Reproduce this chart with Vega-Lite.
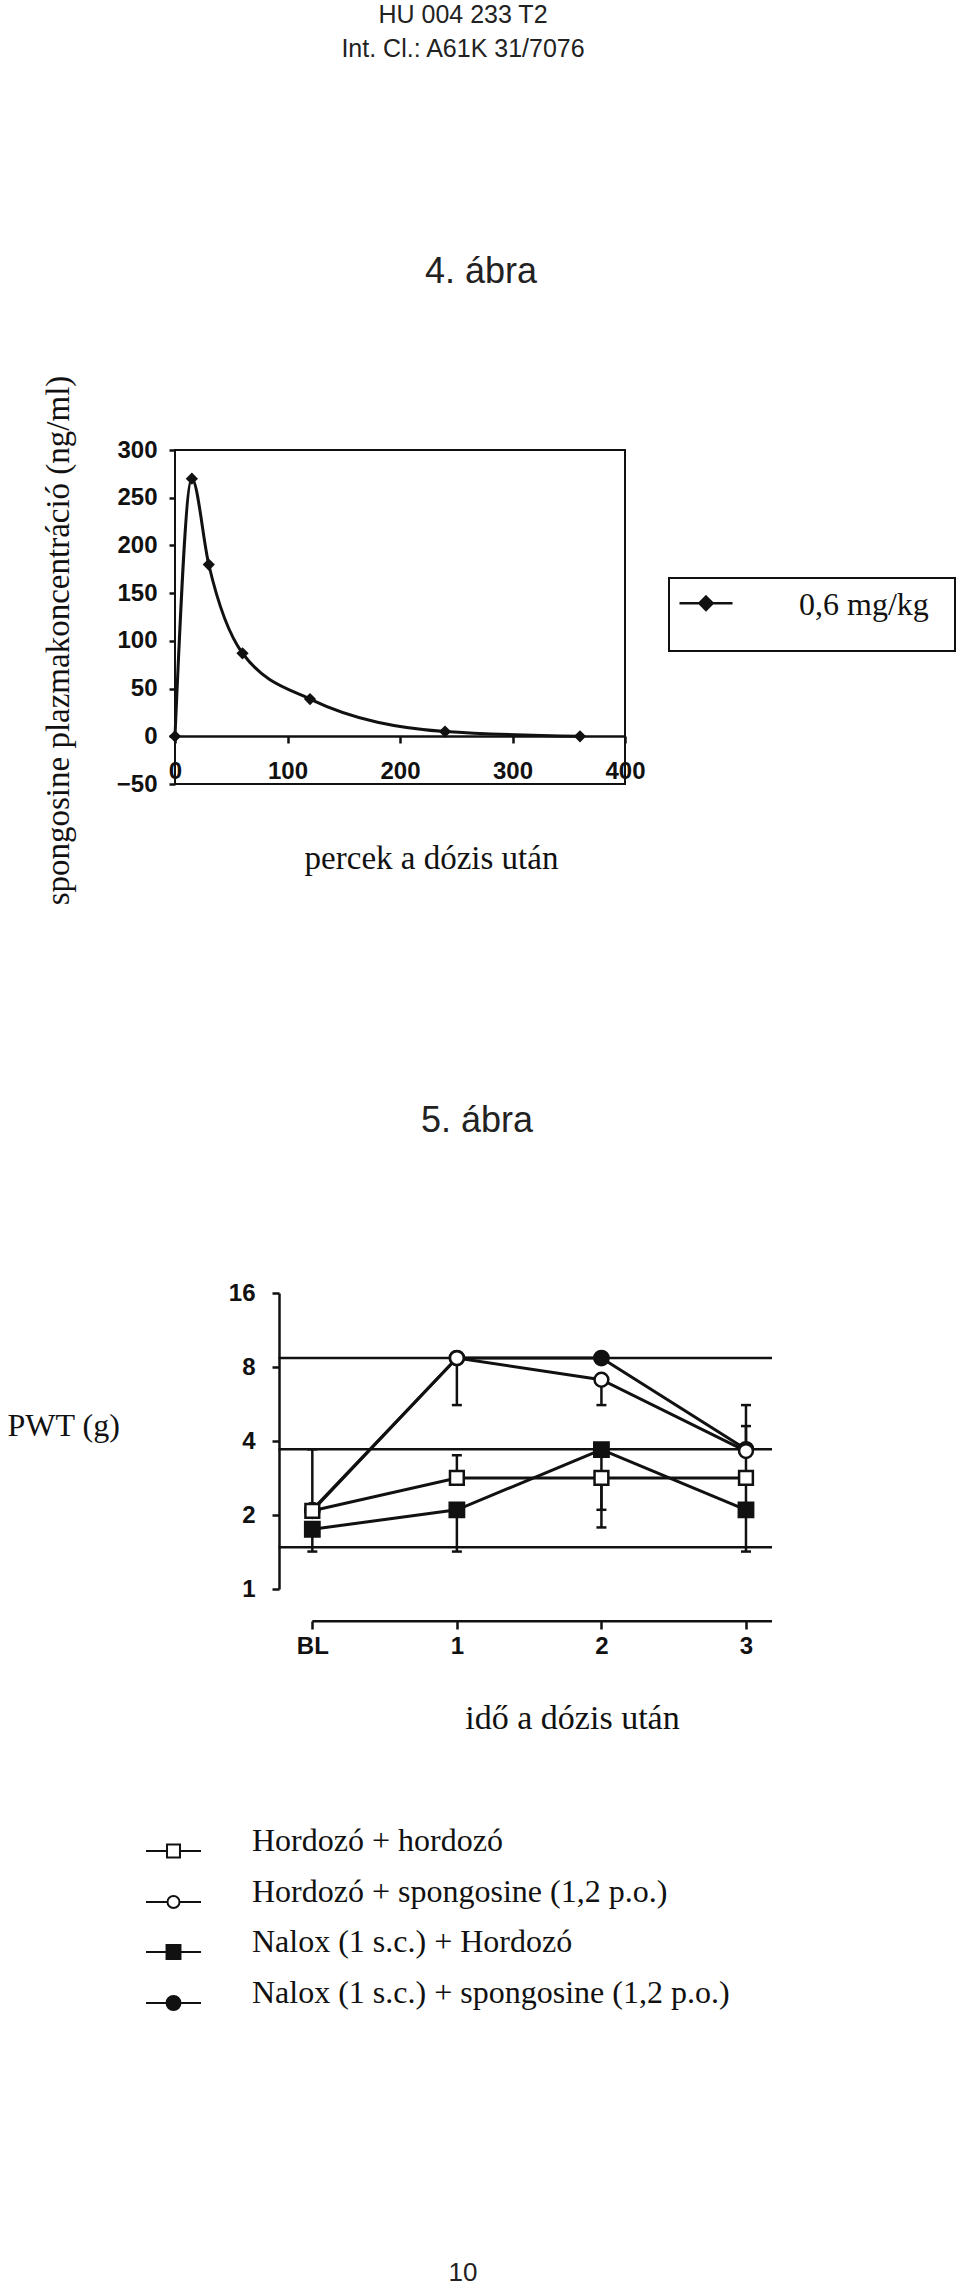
{
  "$schema": "https://vega.github.io/schema/vega-lite/v6.json",
  "background": "white",
  "autosize": {"type": "pad"},
  "padding": {"left": 7, "top": 3, "right": 2, "bottom": 0},
  "datasets": {
    "pk": [
      {"minutes": 0, "conc": 0, "dose": "0,6 mg/kg"},
      {"minutes": 15, "conc": 270, "dose": "0,6 mg/kg"},
      {"minutes": 30, "conc": 180, "dose": "0,6 mg/kg"},
      {"minutes": 60, "conc": 87, "dose": "0,6 mg/kg"},
      {"minutes": 120, "conc": 39, "dose": "0,6 mg/kg"},
      {"minutes": 240, "conc": 5, "dose": "0,6 mg/kg"},
      {"minutes": 360, "conc": 0, "dose": "0,6 mg/kg"}
    ],
    "pwt": [
      {"group": "Nalox (1 s.c.) + spongosine (1,2 p.o.)", "t": 0, "pwt": 2.08, "lo": 2.08, "hi": 2.08},
      {"group": "Nalox (1 s.c.) + spongosine (1,2 p.o.)", "t": 1, "pwt": 8.7, "lo": 8.7, "hi": 8.7},
      {"group": "Nalox (1 s.c.) + spongosine (1,2 p.o.)", "t": 2, "pwt": 8.7, "lo": 8.7, "hi": 8.7},
      {"group": "Nalox (1 s.c.) + spongosine (1,2 p.o.)", "t": 3, "pwt": 3.7, "lo": 3.7, "hi": 4.6},
      {"group": "Nalox (1 s.c.) + Hordozó", "t": 0, "pwt": 1.75, "lo": 1.42, "hi": 1.75},
      {"group": "Nalox (1 s.c.) + Hordozó", "t": 1, "pwt": 2.1, "lo": 1.42, "hi": 2.1},
      {"group": "Nalox (1 s.c.) + Hordozó", "t": 2, "pwt": 3.69, "lo": 2.1, "hi": 3.69},
      {"group": "Nalox (1 s.c.) + Hordozó", "t": 3, "pwt": 2.1, "lo": 1.42, "hi": 2.1},
      {"group": "Hordozó + spongosine (1,2 p.o.)", "t": 0, "pwt": 2.1, "lo": 2.1, "hi": 2.1},
      {"group": "Hordozó + spongosine (1,2 p.o.)", "t": 1, "pwt": 8.7, "lo": 5.6, "hi": 8.7},
      {"group": "Hordozó + spongosine (1,2 p.o.)", "t": 2, "pwt": 7.1, "lo": 5.6, "hi": 7.1},
      {"group": "Hordozó + spongosine (1,2 p.o.)", "t": 3, "pwt": 3.64, "lo": 3.64, "hi": 5.6},
      {"group": "Hordozó + hordozó", "t": 0, "pwt": 2.08, "lo": 2.08, "hi": 3.7},
      {"group": "Hordozó + hordozó", "t": 1, "pwt": 2.83, "lo": 2.83, "hi": 3.5},
      {"group": "Hordozó + hordozó", "t": 2, "pwt": 2.83, "lo": 1.78, "hi": 2.83},
      {"group": "Hordozó + hordozó", "t": 3, "pwt": 2.83, "lo": 2.2, "hi": 3.5}
    ],
    "reflines": [
      {"level": 8.7},
      {"level": 3.7},
      {"level": 1.48}
    ]
  },
  "title": {
    "text": "HU 004 233 T2",
    "subtitle": "Int. Cl.: A61K 31/7076",
    "font": "Liberation Sans",
    "fontSize": 25,
    "fontWeight": "normal",
    "color": "#222",
    "subtitleFont": "Liberation Sans",
    "subtitleFontSize": 25,
    "subtitleColor": "#222",
    "subtitlePadding": 9,
    "anchor": "middle",
    "frame": "bounds",
    "dx": -19,
    "offset": 191,
    "baseline": "top"
  },
  "bounds": "flush",
  "spacing": 509,
  "resolve": {
    "scale": {"shape": "independent", "fill": "independent"},
    "legend": {"shape": "independent", "fill": "independent"}
  },
  "vconcat": [
    {
      "width": 450,
      "height": 334,
      "view": {"stroke": "#111", "strokeWidth": 2},
      "title": {"text": "4. ábra", "font": "Liberation Sans", "fontSize": 36, "fontWeight": "normal", "color": "#222", "anchor": "middle", "frame": "group", "dx": 81, "offset": 84, "baseline": "top"},
      "data": {"name": "pk"},
      "layer": [
        {
          "mark": {"type": "line", "interpolate": "monotone", "color": "#111", "strokeWidth": 3},
          "encoding": {
            "x": {
              "field": "minutes", "type": "quantitative",
              "scale": {"domain": [0, 400], "nice": false, "zero": false},
              "axis": {"orient": "bottom", "offset": -48, "values": [0, 100, 200, 300, 400], "format": "d", "domain": true, "tickSize": 7, "labelPadding": 16, "labelFlush": false, "labelOverlap": false, "title": "percek a dózis után", "titleX": 256, "titleY": 132, "titleAlign": "center", "titleBaseline": "alphabetic", "titleFontSize": 33}
            },
            "y": {
              "field": "conc", "type": "quantitative",
              "scale": {"domain": [-50, 300], "nice": false, "zero": false},
              "axis": {"values": [-50, 0, 50, 100, 150, 200, 250, 300], "format": "d", "domain": false, "tickSize": 6, "labelPadding": 12, "labelFlush": false, "labelOverlap": false, "title": "spongosine plazmakoncentráció (ng/ml)", "titleAngle": -90, "titleX": -117, "titleY": 190, "titleAlign": "center", "titleBaseline": "middle", "titleFontSize": 33}
            }
          }
        },
        {
          "mark": {"type": "point", "shape": "diamond", "filled": true, "color": "#111", "size": 150, "opacity": 1},
          "encoding": {
            "x": {"field": "minutes", "type": "quantitative"},
            "y": {"field": "conc", "type": "quantitative"}
          }
        },
        {
          "transform": [{"filter": "false"}],
          "mark": {"type": "point", "filled": false, "stroke": "#111", "strokeWidth": 2.5, "opacity": 1},
          "encoding": {
            "x": {"field": "minutes", "type": "quantitative"},
            "y": {"field": "conc", "type": "quantitative"},
            "shape": {
              "field": "dose", "type": "nominal",
              "scale": {"domain": ["0,6 mg/kg"], "range": ["M-1,-0.443L1,-0.443M0,-0.693L0.25,-0.443L0,-0.193L-0.25,-0.443ZM8.85,-0.443L8.85,-0.443"]},
              "legend": {"orient": "none", "legendX": 494, "legendY": 128, "title": "\u00a0", "titleOrient": "bottom", "titleFontSize": 21, "titlePadding": 0, "padding": 9, "strokeColor": "#111", "symbolSize": 2809, "symbolStrokeWidth": 2.5, "symbolFillColor": "#111", "labelFont": "Liberation Serif", "labelFontSize": 32, "labelBaseline": "alphabetic", "labelOffset": 65, "labelLimit": 400, "labelColor": "#111"}
            },
            "fill": {
              "field": "dose", "type": "nominal",
              "scale": {"domain": ["0,6 mg/kg"], "range": ["#111"]},
              "legend": {"orient": "none", "legendX": 494, "legendY": 128, "title": "\u00a0", "titleOrient": "bottom", "titleFontSize": 21, "titlePadding": 0, "padding": 9, "strokeColor": "#111", "symbolSize": 2809, "symbolStrokeWidth": 2.5, "symbolFillColor": "#111", "labelFont": "Liberation Serif", "labelFontSize": 32, "labelBaseline": "alphabetic", "labelOffset": 65, "labelLimit": 400, "labelColor": "#111"}
            }
          }
        }
      ]
    },
    {
      "width": 597,
      "height": 296,
      "title": {"text": "5. ábra", "font": "Liberation Sans", "fontSize": 36, "fontWeight": "normal", "color": "#222", "anchor": "middle", "frame": "group", "dx": 3.5, "offset": 141, "baseline": "top"},
      "layer": [
        {
          "data": {"name": "reflines"},
          "mark": {"type": "rule", "color": "#111", "strokeWidth": 2.5},
          "encoding": {
            "y": {
              "field": "level", "type": "quantitative",
              "scale": {"type": "log", "base": 2, "domain": [1, 16], "nice": false},
              "axis": {"orient": "left", "offset": -104, "values": [1, 2, 4, 8, 16], "format": "d", "domain": true, "tickSize": 7, "labelPadding": 17, "labelFlush": false, "labelOverlap": false, "title": "PWT (g)", "titleAngle": 0, "titleX": -272, "titleY": 142, "titleAlign": "left", "titleBaseline": "alphabetic", "titleFontSize": 32}
            },
            "x": {
              "datum": -0.234, "type": "quantitative",
              "scale": {"domain": [-0.95, 3.18], "nice": false, "zero": false},
              "axis": {"orient": "bottom", "offset": 32, "values": [0, 1, 2, 3], "format": "d", "labelExpr": "datum.value == 0 ? 'BL' : datum.label", "domain": false, "tickSize": 8, "labelPadding": 5, "labelFlush": false, "title": "idő a dózis után", "titleX": 397, "titleY": 107, "titleAlign": "center", "titleBaseline": "alphabetic", "titleFontSize": 34}
            },
            "x2": {"datum": 3.18}
          }
        },
        {
          "data": {"values": [{"axis": "x"}]},
          "mark": {"type": "rule", "color": "#111", "strokeWidth": 2.5},
          "encoding": {
            "x": {"datum": 0, "type": "quantitative"},
            "x2": {"datum": 3.18},
            "y": {"datum": 0.74, "type": "quantitative"}
          }
        },
        {
          "data": {"name": "pwt"},
          "mark": {"type": "rule", "color": "#111", "strokeWidth": 2.5},
          "encoding": {
            "x": {"field": "t", "type": "quantitative"},
            "y": {"field": "lo", "type": "quantitative"},
            "y2": {"field": "hi"}
          }
        },
        {
          "data": {"name": "pwt"},
          "mark": {"type": "tick", "orient": "horizontal", "color": "#111", "size": 10, "thickness": 2.5, "opacity": 1},
          "encoding": {
            "x": {"field": "t", "type": "quantitative"},
            "y": {"field": "lo", "type": "quantitative"}
          }
        },
        {
          "data": {"name": "pwt"},
          "mark": {"type": "tick", "orient": "horizontal", "color": "#111", "size": 10, "thickness": 2.5, "opacity": 1},
          "encoding": {
            "x": {"field": "t", "type": "quantitative"},
            "y": {"field": "hi", "type": "quantitative"}
          }
        },
        {
          "data": {"name": "pwt"},
          "mark": {"type": "line", "color": "#111", "strokeWidth": 3},
          "encoding": {
            "x": {"field": "t", "type": "quantitative"},
            "y": {"field": "pwt", "type": "quantitative"},
            "detail": {"field": "group", "type": "nominal"}
          }
        },
        {
          "data": {"name": "pwt"},
          "transform": [{"filter": "datum.group == 'Nalox (1 s.c.) + spongosine (1,2 p.o.)'"}],
          "mark": {"type": "point", "shape": "circle", "filled": true, "fill": "#111", "stroke": "#111", "strokeWidth": 2, "size": 220, "opacity": 1},
          "encoding": {
            "x": {"field": "t", "type": "quantitative"},
            "y": {"field": "pwt", "type": "quantitative"}
          }
        },
        {
          "data": {"name": "pwt"},
          "transform": [{"filter": "datum.group == 'Nalox (1 s.c.) + Hordozó'"}],
          "mark": {"type": "point", "shape": "square", "filled": true, "fill": "#111", "stroke": "#111", "strokeWidth": 2, "size": 220, "opacity": 1},
          "encoding": {
            "x": {"field": "t", "type": "quantitative"},
            "y": {"field": "pwt", "type": "quantitative"}
          }
        },
        {
          "data": {"name": "pwt"},
          "transform": [{"filter": "datum.group == 'Hordozó + spongosine (1,2 p.o.)'"}],
          "mark": {"type": "point", "shape": "circle", "filled": true, "fill": "white", "stroke": "#111", "strokeWidth": 2.5, "size": 190, "opacity": 1},
          "encoding": {
            "x": {"field": "t", "type": "quantitative"},
            "y": {"field": "pwt", "type": "quantitative"}
          }
        },
        {
          "data": {"name": "pwt"},
          "transform": [{"filter": "datum.group == 'Hordozó + hordozó'"}],
          "mark": {"type": "point", "shape": "square", "filled": true, "fill": "white", "stroke": "#111", "strokeWidth": 2.5, "size": 190, "opacity": 1},
          "encoding": {
            "x": {"field": "t", "type": "quantitative"},
            "y": {"field": "pwt", "type": "quantitative"}
          }
        },
        {
          "data": {"name": "pwt"},
          "transform": [{"filter": "false"}],
          "mark": {"type": "point", "filled": false, "stroke": "#111", "strokeWidth": 2, "opacity": 1},
          "encoding": {
            "x": {"field": "t", "type": "quantitative"},
            "y": {"field": "pwt", "type": "quantitative"},
            "shape": {
              "field": "group", "type": "nominal",
              "scale": {
                "domain": ["Hordozó + hordozó", "Hordozó + spongosine (1,2 p.o.)", "Nalox (1 s.c.) + Hordozó", "Nalox (1 s.c.) + spongosine (1,2 p.o.)"],
                "range": [
                  "M-1.146,0L-0.27,0M0.27,0L1.146,0M-0.27,-0.27L0.27,-0.27L0.27,0.27L-0.27,0.27Z",
                  "M-1.146,0L-0.25,0M0.25,0L1.146,0M-0.25,0A0.25,0.25,0,1,1,0.25,0A0.25,0.25,0,1,1,-0.25,0Z",
                  "M-1.146,0L-0.29,0M0.29,0L1.146,0M-0.29,-0.29L0.29,-0.29L0.29,0.29L-0.29,0.29Z",
                  "M-1.146,0L-0.29,0M0.29,0L1.146,0M-0.29,0A0.29,0.29,0,1,1,0.29,0A0.29,0.29,0,1,1,-0.29,0Z"
                ]
              },
              "legend": {"orient": "none", "legendX": -26.5, "legendY": 533, "title": null, "padding": 0, "rowPadding": 14, "direction": "vertical", "symbolSize": 2304, "symbolStrokeWidth": 2, "symbolFillColor": "white", "labelFont": "Liberation Serif", "labelFontSize": 32, "labelBaseline": "alphabetic", "labelOffset": 53.5, "labelLimit": 700, "labelColor": "#111"}
            },
            "fill": {
              "field": "group", "type": "nominal",
              "scale": {
                "domain": ["Hordozó + hordozó", "Hordozó + spongosine (1,2 p.o.)", "Nalox (1 s.c.) + Hordozó", "Nalox (1 s.c.) + spongosine (1,2 p.o.)"],
                "range": ["white", "white", "#111", "#111"]
              },
              "legend": {"orient": "none", "legendX": -26.5, "legendY": 533, "title": null, "padding": 0, "rowPadding": 14, "direction": "vertical", "symbolSize": 2304, "symbolStrokeWidth": 2, "symbolFillColor": "white", "labelFont": "Liberation Serif", "labelFontSize": 32, "labelBaseline": "alphabetic", "labelOffset": 53.5, "labelLimit": 700, "labelColor": "#111"}
            }
          }
        }
      ]
    },
    {
      "width": 576,
      "height": 350,
      "data": {"values": [{"page": "10"}]},
      "mark": {"type": "text", "font": "Liberation Sans", "fontSize": 26, "color": "#222", "baseline": "middle", "align": "center"},
      "encoding": {"text": {"field": "page", "type": "nominal"}}
    }
  ],
  "config": {
    "view": {"stroke": null},
    "axis": {"grid": false, "domainColor": "#111", "tickColor": "#111", "labelColor": "#111", "titleColor": "#111", "domainWidth": 2.5, "tickWidth": 2.5, "labelFont": "Liberation Sans", "labelFontSize": 24, "labelFontWeight": "bold", "titleFont": "Liberation Serif", "titleFontWeight": "normal", "titleFontSize": 33},
    "legend": {"strokeWidth": 2, "labelFont": "Liberation Serif", "labelFontSize": 32, "labelColor": "#111", "labelFontWeight": "normal"},
    "title": {"font": "Liberation Sans", "fontWeight": "normal", "color": "#222"}
  }
}
